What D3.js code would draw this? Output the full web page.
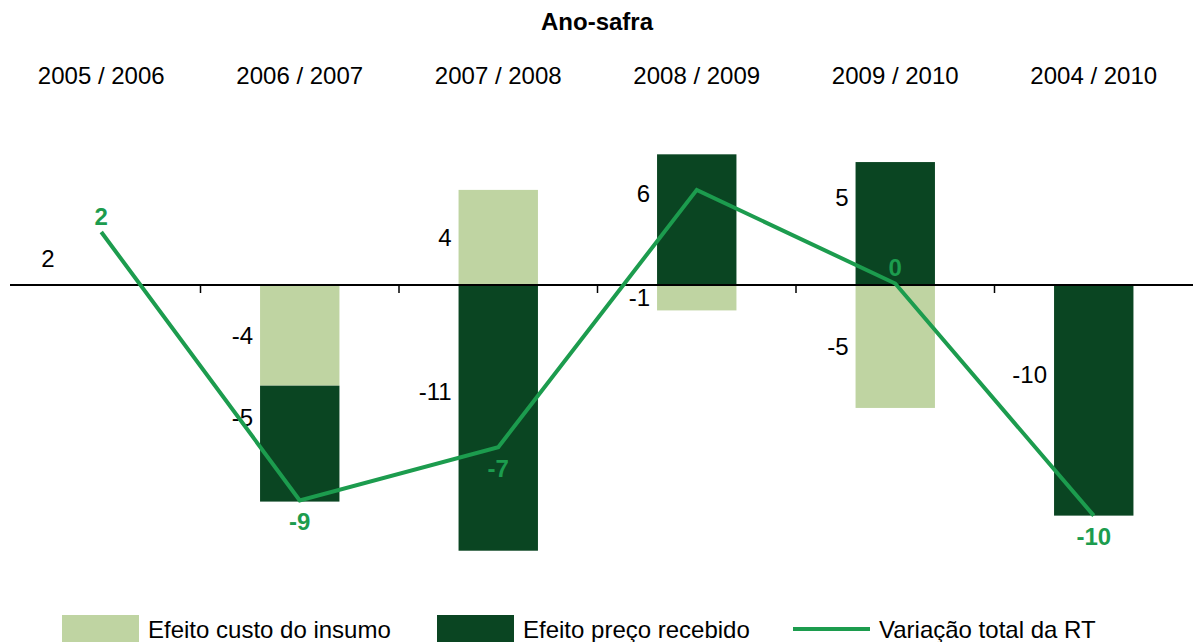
<!DOCTYPE html>
<html>
<head>
<meta charset="utf-8">
<script src="https://cdn.jsdelivr.net/npm/d3@7/dist/d3.min.js"></script>
<style>
  html, body { margin: 0; padding: 0; background: #fff; }
  svg { display: block; font-family: "Liberation Sans", Arial, sans-serif; }
</style>
</head>
<body>
<svg id="chart" width="1193" height="642"></svg>
<script>
// ---- data ----
const categories = ["2005 / 2006", "2006 / 2007", "2007 / 2008", "2008 / 2009", "2009 / 2010", "2004 / 2010"];
const custoInsumo = [0, -4.16, 3.93, -1.05, -5.08, 0];
const precoRecebido = [2.19, -4.79, -10.98, 5.40, 5.08, -9.53];
const variacaoTotal = [2.19, -8.90, -6.70, 3.93, 0.06, -9.53];
const custoLabels = [null, "-4", "4", "-1", "-5", null];
const precoLabels = ["2", "-5", "-11", "6", "5", "-10"];
const totalLabels = ["2", "-9", "-7", null, "0", "-10"];
const seriesNames = ["Efeito custo do insumo", "Efeito preço recebido", "Variação total da RT"];
const title = "Ano-safra";

// ---- setup ----
const colLight = "#bfd4a2", colDark = "#0a4522", colLine = "#1c9c4e";
const FS = 24;
const svg = d3.select("#chart");

const x = d3.scaleBand().domain(categories).range([2, 1193]).padding(0);
const y = d3.scaleLinear().domain([-12, 8]).range([285 + 12 * 24.2, 285 - 8 * 24.2]);
const barW = x.bandwidth() * 0.4;
const cx = c => x(c) + x.bandwidth() / 2;

// title
svg.append("text").attr("x", 597).attr("y", 30).attr("text-anchor", "middle")
  .attr("font-size", FS).attr("font-weight", "bold").attr("fill", "#000").text(title);

// top category axis
const topAxis = d3.axisTop(x).tickSize(0).tickPadding(0);
const gTop = svg.append("g").attr("transform", "translate(0,84)").call(topAxis);
gTop.select(".domain").remove();
gTop.selectAll("text").attr("font-size", FS).attr("fill", "#000")
  .attr("font-family", "Liberation Sans, Arial, sans-serif").attr("dy", 0);

// stacked segments (diverging)
const rows = categories.map((c, i) => {
  const segs = [];
  let pos = 0, neg = 0;
  [[custoInsumo[i], colLight, custoLabels[i], 0], [precoRecebido[i], colDark, precoLabels[i], 1]].forEach(([v, col, lab, s]) => {
    let y0, y1;
    if (v >= 0) { y0 = pos; y1 = pos + v; pos = y1; } else { y0 = neg; y1 = neg + v; neg = y1; }
    segs.push({ c, i, v, y0, y1, col, lab, s });
  });
  return segs;
}).flat();

svg.append("g").selectAll("rect").data(rows.filter(d => d.v !== 0)).join("rect")
  .attr("x", d => cx(d.c) - barW / 2)
  .attr("width", barW)
  .attr("y", d => Math.min(y(d.y0), y(d.y1)))
  .attr("height", d => Math.abs(y(d.y1) - y(d.y0)))
  .attr("fill", d => d.i === 0 ? "none" : d.col);

// bar labels
svg.append("g").selectAll("text").data(rows.filter(d => d.lab !== null)).join("text")
  .attr("x", d => cx(d.c) - barW / 2 - 7)
  .attr("y", d => y((d.y0 + d.y1) / 2) - (d.s === 1 && d.i > 0 ? 26 : 0))
  .attr("dy", "0.36em")
  .attr("text-anchor", "end")
  .attr("font-size", FS).attr("fill", "#000")
  .text(d => d.lab);

// zero line + ticks
svg.append("line").attr("x1", 10).attr("x2", 1193).attr("y1", y(0)).attr("y2", y(0))
  .attr("stroke", "#000").attr("stroke-width", 2);
svg.append("g").selectAll("line").data(categories.slice(1)).join("line")
  .attr("x1", d => x(d)).attr("x2", d => x(d))
  .attr("y1", y(0)).attr("y2", y(0) + 8)
  .attr("stroke", "#000").attr("stroke-width", 1.5);

// total line
const line = d3.line().x((d, i) => cx(categories[i])).y(d => y(d));
svg.append("path").datum(variacaoTotal).attr("d", line)
  .attr("fill", "none").attr("stroke", colLine).attr("stroke-width", 4);

svg.append("g").selectAll("text").data(variacaoTotal.map((v, i) => ({ v, i, lab: totalLabels[i] })).filter(d => d.lab !== null))
  .join("text")
  .attr("x", d => cx(categories[d.i]))
  .attr("y", d => y(d.v) + (d.v >= 0 ? -16 : 21))
  .attr("dy", "0.36em")
  .attr("text-anchor", "middle")
  .attr("font-size", FS).attr("font-weight", "bold").attr("fill", colLine)
  .text(d => d.lab);

// legend
const leg = svg.append("g");
const legX = [62, 437, 793];
[colLight, colDark].forEach((c, k) => {
  leg.append("rect").attr("x", legX[k]).attr("y", 615).attr("width", 77).attr("height", 30).attr("fill", c);
});
leg.append("line").attr("x1", legX[2]).attr("x2", legX[2] + 77).attr("y1", 629).attr("y2", 629)
  .attr("stroke", colLine).attr("stroke-width", 4);
seriesNames.forEach((n, k) => {
  leg.append("text").attr("x", legX[k] + 86).attr("y", 629).attr("dy", "0.36em")
    .attr("font-size", FS).attr("fill", "#000").text(n);
});
</script>
</body>
</html>
